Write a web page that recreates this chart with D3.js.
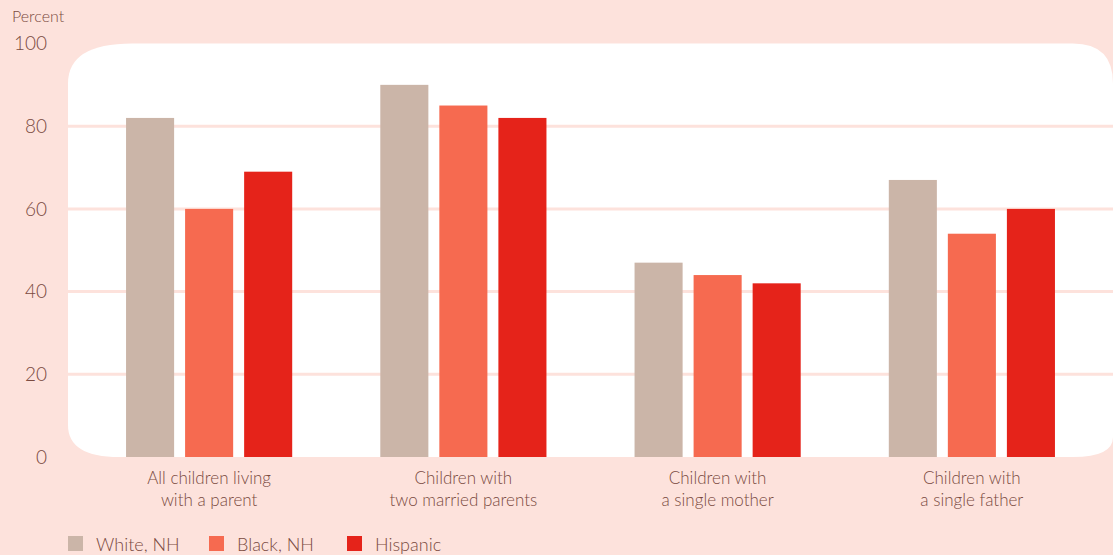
<!DOCTYPE html>
<html>
<head>
<meta charset="utf-8">
<script src="https://cdn.jsdelivr.net/npm/d3@7"></script>
<style>
  html, body { margin: 0; padding: 0; background: #fde2dc; }
  svg { display: block; font-family: "Lato", "Noto Sans", sans-serif; font-weight: 300; }
</style>
</head>
<body>
<svg id="chart" width="1113" height="555"></svg>
<script>
const categories = [
  ["All children living", "with a parent"],
  ["Children with", "two married parents"],
  ["Children with", "a single mother"],
  ["Children with", "a single father"]
];
const seriesNames = ["White, NH", "Black, NH", "Hispanic"];
const white = [82, 90, 47, 67];
const black = [60, 85, 44, 54];
const hispanic = [69, 82, 42, 60];
const yTicks = [0, 20, 40, 60, 80, 100];
const colors = ["#cbb5a8", "#f66a50", "#e5231a"];
const series = [white, black, hispanic];

var svg = d3.select("#chart");
var textColor = "#7a4a3f";

var plotTop = 43.5, plotBottom = 457, plotLeft = 68, plotRight = 1113;

var y = d3.scaleLinear().domain([0, 100]).range([plotBottom, plotTop]);
var x0 = d3.scaleBand().domain(d3.range(categories.length))
  .range([82, 1099]).paddingInner(0.3465).paddingOuter(0.3465 / 2);
var x1 = d3.scaleBand().domain(d3.range(seriesNames.length))
  .range([0, x0.bandwidth()]).paddingInner(0.186).paddingOuter(0);

// white plot panel with rounded corners
var r1 = 40, r2 = 32;
svg.append("path")
  .attr("d", `M${plotLeft},${plotTop + r1} Q${plotLeft},${plotTop} ${plotLeft + r1 * 1.6},${plotTop}
    L${plotRight - r1},${plotTop} Q${plotRight},${plotTop} ${plotRight},${plotTop + r1}
    L${plotRight},${plotBottom - 20} Q${plotRight},${plotBottom} ${plotRight - 40},${plotBottom}
    L${plotLeft + r2 * 1.6},${plotBottom} Q${plotLeft},${plotBottom} ${plotLeft},${plotBottom - r2} Z`)
  .attr("fill", "#ffffff");

// gridlines
svg.append("g").selectAll("line")
  .data(yTicks.filter(d => d > 0 && d < 100))
  .join("line")
  .attr("x1", plotLeft).attr("x2", plotRight)
  .attr("y1", d => y(d)).attr("y2", d => y(d))
  .attr("stroke", "#fde2dc").attr("stroke-width", 3);

// y tick labels
svg.append("g").selectAll("text")
  .data(yTicks)
  .join("text")
  .attr("x", 47).attr("y", d => y(d))
  .attr("dy", "0.36em")
  .attr("text-anchor", "end")
  .attr("fill", textColor)
  .attr("font-size", 19)
  .text(d => d);

svg.append("text")
  .attr("x", 12).attr("y", 22)
  .attr("fill", textColor).attr("font-size", 16)
  .text("Percent");

// bars
var groups = svg.append("g").selectAll("g")
  .data(categories.map((c, i) => i))
  .join("g")
  .attr("transform", i => `translate(${x0(i)},0)`);

groups.selectAll("rect")
  .data(i => series.map((s, k) => ({ k: k, v: s[i] })))
  .join("rect")
  .attr("x", d => x1(d.k))
  .attr("width", x1.bandwidth())
  .attr("y", d => y(d.v))
  .attr("height", d => y(0) - y(d.v))
  .attr("fill", d => colors[d.k]);

// category labels
svg.append("g").selectAll("text")
  .data(categories)
  .join("text")
  .attr("x", (d, i) => x0(i) + x0.bandwidth() / 2)
  .attr("y", 484)
  .attr("text-anchor", "middle")
  .attr("fill", textColor)
  .attr("font-size", 17)
  .selectAll("tspan")
  .data(d => d)
  .join("tspan")
  .attr("x", function () { return this.parentNode.getAttribute("x"); })
  .attr("dy", (d, j) => j === 0 ? 0 : 22)
  .text(d => d);

// legend
var legendX = [68, 209, 347];
var legend = svg.append("g").selectAll("g")
  .data(seriesNames)
  .join("g")
  .attr("transform", (d, i) => `translate(${legendX[i]},536)`);
legend.append("rect")
  .attr("width", 15).attr("height", 15)
  .attr("fill", (d, i) => colors[i]);
legend.append("text")
  .attr("x", 28).attr("y", 15)
  .attr("fill", textColor).attr("font-size", 18)
  .text(d => d);
</script>
</body>
</html>
